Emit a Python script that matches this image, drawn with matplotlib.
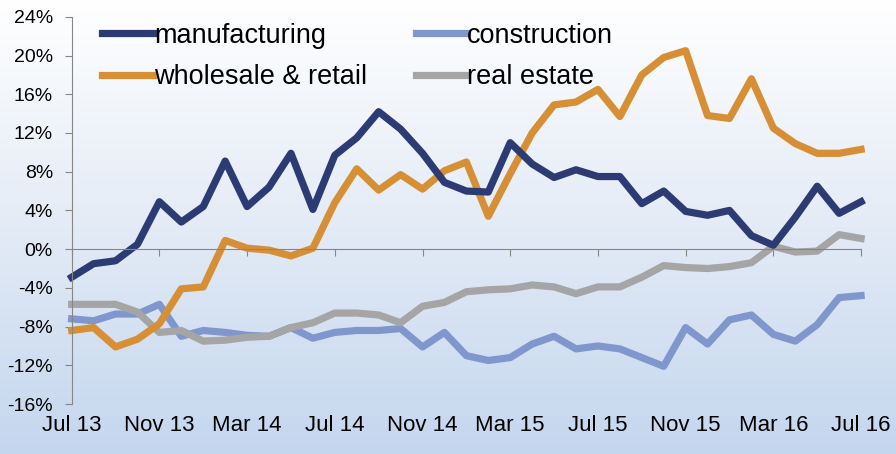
import numpy as np
import matplotlib
matplotlib.use("Agg")
import matplotlib.pyplot as plt
from matplotlib.colors import LinearSegmentedColormap
from matplotlib.transforms import blended_transform_factory

plt.rcParams['font.family'] = ['Liberation Sans', 'DejaVu Sans']

# monthly data, Jul 13 .. Jul 16 (in %)
months = ['Jul 13', 'Nov 13', 'Mar 14', 'Jul 14', 'Nov 14', 'Mar 15',
          'Jul 15', 'Nov 15', 'Mar 16', 'Jul 16']

manufacturing = [-2.9, -1.5, -1.2, 0.5, 4.9, 2.8, 4.4, 9.1, 4.4, 6.4, 9.9, 4.1,
                 9.7, 11.5, 14.2, 12.4, 9.9, 6.9, 6.0, 5.9, 11.0, 8.8, 7.4, 8.2,
                 7.5, 7.5, 4.7, 6.0, 3.9, 3.5, 4.0, 1.4, 0.4, 3.3, 6.5, 3.7, 4.9]
construction = [-7.2, -7.4, -6.7, -6.7, -5.7, -9.0, -8.4, -8.6, -8.9, -9.0, -8.1, -9.2,
                -8.6, -8.4, -8.4, -8.2, -10.1, -8.6, -11.0, -11.5, -11.2, -9.8, -9.0, -10.3,
                -10.0, -10.3, -11.2, -12.1, -8.1, -9.8, -7.3, -6.8, -8.8, -9.5, -7.8, -5.0, -4.8]
wholesale = [-8.4, -8.1, -10.1, -9.3, -7.7, -4.1, -3.9, 0.9, 0.1, -0.1, -0.7, 0.1,
             4.8, 8.3, 6.1, 7.7, 6.2, 8.1, 9.0, 3.4, 7.8, 12.0, 14.9, 15.2,
             16.5, 13.7, 18.0, 19.8, 20.5, 13.8, 13.5, 17.6, 12.5, 10.9, 9.9, 9.9, 10.3]
real_estate = [-5.7, -5.7, -5.7, -6.5, -8.6, -8.4, -9.5, -9.4, -9.1, -9.0, -8.1, -7.6,
               -6.6, -6.6, -6.8, -7.6, -5.9, -5.5, -4.4, -4.2, -4.1, -3.7, -3.9, -4.6,
               -3.9, -3.9, -2.9, -1.7, -1.9, -2.0, -1.8, -1.4, 0.3, -0.3, -0.2, 1.5, 1.1]

x = np.arange(len(manufacturing))

fig = plt.figure(figsize=(8.96, 4.54), dpi=100)

# gradient background (white at top -> light blue at bottom)
bg = fig.add_axes([0, 0, 1, 1], zorder=-1)
cmap = LinearSegmentedColormap.from_list('bg', ['#c4d6ee', '#e3ebf6', '#ffffff'])
bg.imshow(np.linspace(0, 1, 256).reshape(-1, 1), aspect='auto', cmap=cmap,
          origin='lower', extent=[0, 1, 0, 1])
bg.axis('off')

ax = fig.add_axes([0.080, 0.110, 0.881, 0.853])
ax.patch.set_alpha(0)

lw = 5.2
l_man, = ax.plot(x, manufacturing, color='#2c3b74', lw=lw, solid_joinstyle='round', clip_on=False)
l_con, = ax.plot(x, construction, color='#8097cd', lw=lw, solid_joinstyle='round', clip_on=False)
l_whl, = ax.plot(x, wholesale, color='#d78f36', lw=lw, solid_joinstyle='round', clip_on=False)
l_re, = ax.plot(x, real_estate, color='#a5a5a5', lw=lw, solid_joinstyle='round', clip_on=False)
l_whl.set_zorder(2.1)
l_man.set_zorder(2.2)

ax.set_xlim(0, 36)
ax.set_ylim(-16, 24)
ax.set_yticks(np.arange(-16, 25, 4))
ax.set_yticklabels([f'{v}%' for v in range(-16, 25, 4)], fontsize=14)

for s in ['top', 'right']:
    ax.spines[s].set_visible(False)
ax.spines['left'].set_color('#868686')
ax.spines['bottom'].set_color('#868686')
ax.spines['bottom'].set_position(('data', 0))
ax.tick_params(axis='y', length=5, color='#868686', pad=8.5)
ax.set_xticks(np.arange(0, 37, 4))
ax.tick_params(axis='x', length=5, color='#868686', labelbottom=False)

trans = blended_transform_factory(ax.transData, ax.transAxes)
for i, lab in enumerate(months):
    ax.text(i * 4, -0.055, lab, transform=trans, ha='center', va='center', fontsize=16)

ax.legend([l_man, l_whl, l_con, l_re],
          ['manufacturing', 'wholesale & retail', 'construction', 'real estate'],
          ncol=2, frameon=False, fontsize=19.5, loc='upper left',
          bbox_to_anchor=(0.039, 0.985), borderaxespad=0, borderpad=0,
          handlelength=1.9, handletextpad=0.0,
          columnspacing=1.8, labelspacing=0.58)

fig.savefig('out.png', dpi=100)
